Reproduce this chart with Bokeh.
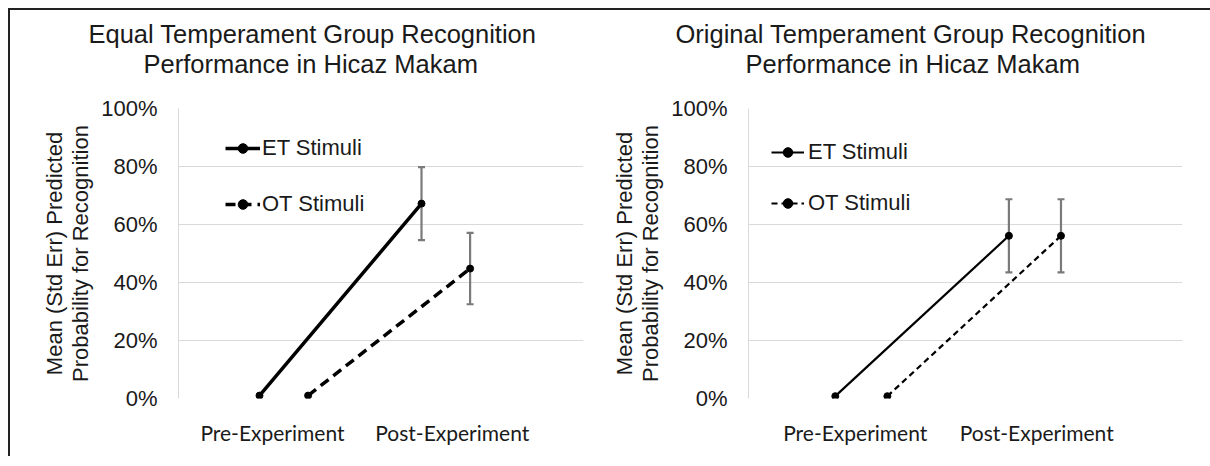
import numpy as np
from bokeh.plotting import figure
from bokeh.models import (ColumnDataSource, Range1d, FixedTicker, NumeralTickFormatter,
                          Whisker, TeeHead, Legend, LegendItem, Title)
from bokeh.layouts import row
from bokeh.embed import file_html
from bokeh.resources import INLINE

# ---------------- data ----------------
stages = ["Pre-Experiment", "Post-Experiment"]
series_names = ["ET Stimuli", "OT Stimuli"]
y_ticks = [0.0, 0.2, 0.4, 0.6, 0.8, 1.0]
y_label = "Mean (Std Err) Predicted\nProbability for Recognition"

eq_title = ["Equal Temperament Group Recognition", "Performance in Hicaz Makam"]
eq_et = [0.010, 0.672]
eq_et_se = [0.0, 0.126]
eq_ot = [0.010, 0.448]
eq_ot_se = [0.0, 0.123]

or_title = ["Original Temperament Group Recognition", "Performance in Hicaz Makam"]
or_et = [0.008, 0.561]
or_et_se = [0.0, 0.126]
or_ot = [0.008, 0.561]
or_ot_se = [0.0, 0.126]

TEXT = "#1a1a1a"
FONT = "Liberation Sans"


def make_panel(title_lines, et, et_se, ot, ot_se, cfg):
    p = figure(width=cfg["width"], height=448, title=None,
               x_range=Range1d(0.5, 3.0), y_range=Range1d(0, 1),
               output_backend="svg", toolbar_location=None,
               min_border_left=cfg["mbl"], min_border_right=cfg["mbr"],
               min_border_top=98, min_border_bottom=60)
    p.outline_line_color = None
    p.background_fill_color = "white"
    p.border_fill_color = "white"
    p.xgrid.visible = False
    p.ygrid.grid_line_color = "#d9d9d9"
    p.ygrid.grid_line_width = 1

    ya = p.yaxis[0]
    ya.ticker = FixedTicker(ticks=y_ticks)
    ya.formatter = NumeralTickFormatter(format="0%")
    ya.axis_line_color = "#d9d9d9"
    ya.major_tick_line_color = None
    ya.minor_tick_line_color = None
    ya.major_tick_out = 0
    ya.major_tick_in = 0
    ya.major_label_standoff = 21
    ya.major_label_text_font = FONT
    ya.major_label_text_font_size = "22px"
    ya.major_label_text_color = TEXT
    ya.axis_label = y_label
    ya.axis_label_standoff = 5
    ya.axis_label_text_font = FONT
    ya.axis_label_text_font_size = "22px"
    ya.axis_label_text_font_style = "normal"
    ya.axis_label_text_color = TEXT
    ya.axis_label_text_line_height = 1.05

    xa = p.xaxis[0]
    ticks = cfg["xticks"]
    xa.ticker = FixedTicker(ticks=ticks)
    xa.major_label_overrides = {t: s for t, s in zip(ticks, stages)}
    xa.axis_line_color = None
    xa.major_tick_line_color = None
    xa.minor_tick_line_color = None
    xa.major_tick_out = 0
    xa.major_tick_in = 0
    xa.major_label_standoff = 21
    xa.major_label_text_font = "Lato"
    xa.major_label_text_font_size = "21px"
    xa.major_label_text_color = TEXT

    idx = np.arange(len(stages)) + 1.0
    offsets = [0.0, 0.3]
    dashes = ["solid", cfg["dash"]]
    items = []
    for k, (vals, se) in enumerate([(et, et_se), (ot, ot_se)]):
        xs = idx + offsets[k]
        vals = np.array(vals)
        se = np.array(se)
        mask = se > 0
        wsrc = ColumnDataSource(dict(x=xs[mask], upper=(vals + se)[mask], lower=(vals - se)[mask]))
        w = Whisker(source=wsrc, base="x", upper="upper", lower="lower",
                    line_color="#7a7a7a", line_width=2.2, level="underlay",
                    upper_head=TeeHead(size=7, line_color="#7a7a7a", line_width=2.2),
                    lower_head=TeeHead(size=7, line_color="#7a7a7a", line_width=2.2))
        p.add_layout(w)
        src = ColumnDataSource(dict(x=xs, y=vals))
        rl = p.line("x", "y", source=src, line_color="black", line_width=cfg["lw"],
                    line_dash=dashes[k])
        p.scatter("x", "y", source=src, size=7, color="black")
        # small marker used only for the legend swatch (no visible point)
        rs_leg = p.scatter(x=[np.nan], y=[np.nan], size=4.5, color="black")
        items.append(LegendItem(label=series_names[k], renderers=[rl, rs_leg]))

    lg = Legend(items=items, location=cfg["legend_loc"], padding=0, margin=0,
                spacing=cfg["spacing"], glyph_width=cfg["gw"], glyph_height=24,
                label_height=24, label_standoff=cfg["ls"],
                label_text_font=FONT, label_text_font_size="22px",
                label_text_color=TEXT, border_line_color=None,
                background_fill_alpha=0)
    p.add_layout(lg)

    # blank spacer between frame and title block
    p.add_layout(Title(text=" ", standoff=7, text_font_size="20px",
                       text_line_height=1.0, text_color="white"), "above")
    # title lines: inner-most (second line) added first
    for line, off in reversed(list(zip(title_lines, cfg["title_offsets"]))):
        p.add_layout(Title(text=line, align="left", offset=off, standoff=0,
                           vertical_align="bottom", text_font=FONT,
                           text_font_size="25.5px", text_font_style="normal",
                           text_line_height=0.95, text_color=TEXT), "above")
    return p


p1 = make_panel(eq_title, eq_et, eq_et_se, eq_ot, eq_ot_se,
                dict(width=600, mbl=168, mbr=27, lw=3.5, dash="10 6",
                     xticks=[1.08, 2.19], legend_loc=(47, 181), spacing=30,
                     gw=35, ls=2, title_offsets=[-90, -35]))
p2 = make_panel(or_title, or_et, or_et_se, or_ot, or_ot_se,
                dict(width=602, mbl=139, mbr=28, lw=2.2, dash="6 4",
                     xticks=[1.115, 2.16], legend_loc=(23, 182), spacing=25,
                     gw=33, ls=4, title_offsets=[-73, -3]))

p1.styles = {"border-top": "2px solid #222", "border-left": "2px solid #222"}
p2.styles = {"border-top": "2px solid #222"}

layout = row(p1, p2, styles={"margin-left": "8px", "margin-top": "8px"})

open("out.html", "w").write(file_html(layout, INLINE))
